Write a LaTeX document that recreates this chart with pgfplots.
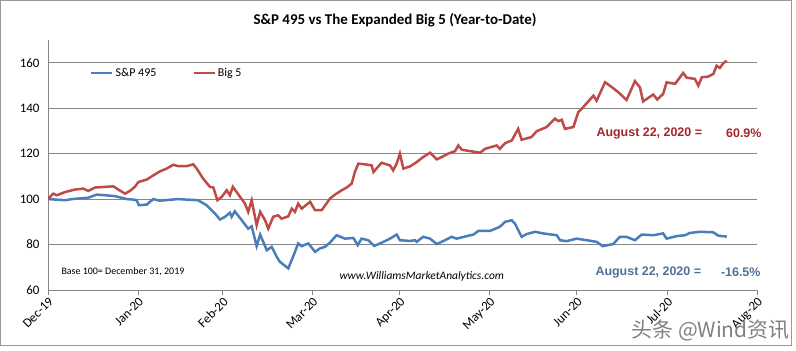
\documentclass[border=0pt]{standalone}
\usepackage{pgfplots}
\pgfplotsset{compat=1.18}
\usepackage{fontspec}
\setmainfont{Carlito}
\newfontfamily\arialfont{Liberation Sans}
\newfontfamily\cjk{Noto Sans CJK SC}
\definecolor{sblue}{RGB}{74,126,187}
\definecolor{bred}{RGB}{190,75,72}
\definecolor{tred}{RGB}{163,38,44}
\definecolor{tblue}{RGB}{80,112,152}
\definecolor{gridc}{RGB}{134,134,134}
\begin{document}
\begin{tikzpicture}[x=1bp,y=1bp]
\useasboundingbox (0,0) rectangle (796,350);
\draw[black!40, line width=1bp] (0.5,5) rectangle (791,349.5);
\begin{axis}[at={(48bp,60bp)}, anchor=south west, scale only axis,
  width=709bp, height=250bp,
  xmin=0, xmax=244, ymin=60, ymax=170,
  xtick={0,31,60,91,121,152,182,213,244},
  xticklabels={Dec-19,Jan-20,Feb-20,Mar-20,Apr-20,May-20,Jun-20,Jul-20,Aug-20},
  ytick={60,80,100,120,140,160},
  axis x line*=bottom, axis y line*=left,
  ymajorgrids, grid style={gridc, line width=0.8bp},
  axis line style={gridc, line width=0.8bp},
  tick align=outside, major tick length=5bp,
  xtick style={gridc, line width=0.8bp}, ytick style={draw=none},
  tick label style={font=\fontsize{13}{15}\selectfont},
  /pgf/number format/assume math mode=true,
  xticklabel style={rotate=45, anchor=north east, inner sep=1bp},
  legend style={at={(0.055,0.868)}, anchor=west, draw=none, fill=none,
    legend columns=2, font=\fontsize{12}{14}\selectfont,
    /tikz/every even column/.append style={column sep=34bp}},
  legend image code/.code={\draw[#1] (0bp,0bp) -- (21bp,0bp);},
]
\addplot[sblue, line width=2.5bp] coordinates {
(0,100) (6,99.5) (8.2,100) (13.8,100.6) (16.8,102) (23.1,101.3) (27.1,100) (29.2,99.8)
(30.5,99.5) (31.3,97.3) (34.0,97.6) (36.2,100) (38.5,99.3) (44.7,100) (51.6,99.5)
(54.6,97.3) (57.5,93.6) (59.2,91) (60.9,92.2) (62.6,94) (63.2,92.2) (64.3,94.6)
(68.9,87) (70.1,88) (71.8,79.3) (73.0,84.4) (75.3,77.5) (77.0,79) (78.7,74.6)
(79.8,72.4) (82.7,69.5) (85.0,76.8) (86.1,80.5) (87.3,79.3) (89.6,80.5) (91.9,76.8)
(93.6,78.3) (95.3,79) (97.0,80.8) (99.3,84.1) (102.2,82.6) (105.1,82.9) (106.6,79.7)
(107.9,82.6) (110.2,81.9) (112.3,79.4) (114.8,80.8) (117.7,82.6) (120.0,84.4)
(121.1,81.9) (124.6,81.6) (126.3,81.9) (126.9,81.2) (129.1,83.4) (131.5,82.6)
(133.8,80.2) (136.6,81.9) (138.9,83.4) (140.6,82.6) (144.1,83.7) (146.4,84.4)
(148.1,86) (152.1,86) (155.5,87.8) (157.3,90) (159.6,90.7) (160.7,89.2) (163.0,83.4)
(164.7,84.6) (167.6,85.6) (170.4,84.9) (175.1,84.1) (176.2,81.9) (178.5,81.5)
(181.9,82.6) (185.4,81.9) (188.8,81.2) (190.9,79.3) (194.5,80.2) (196.8,83.4)
(199.1,83.4) (202.0,81.9) (204.3,84.4) (208.3,84.1) (211.7,84.9) (212.9,82.6)
(216.3,83.7) (219.2,84.1) (220.9,85.1) (224.4,85.6) (228.9,85.4) (230.7,83.9)
(233.6,83.5)
};
\addlegendentry{S\&P 495}
\addplot[bred, line width=2.5bp] coordinates {
(0,100) (1.8,102.4) (3.0,101.7) (5.9,103.1) (9.3,104.2) (12.1,104.6) (13.9,103.6)
(16.2,105.1) (22.5,105.6) (24.2,104.2) (26.5,102.4) (28.2,103.6) (29.9,105.4)
(31.1,107.5) (34.0,108.6) (35.7,110) (38.5,112.2) (40.8,113.4) (43.1,115.1)
(44.8,114.5) (47.7,114.5) (50.0,115.3) (51.2,113.4) (53.4,109) (55.7,105.4)
(56.9,105.1) (58.3,99.5) (59.8,101) (61.5,103.9) (62.6,101.7) (63.6,105.4)
(66.1,101) (67.8,98) (68.9,94.4) (70.1,99.5) (71.8,88.5) (73.0,94.4) (74.7,90.7)
(75.8,87) (77.5,92.2) (79.2,92.9) (80.4,91.4) (82.7,92.4) (83.9,95.8) (85.0,94.4)
(86.1,98) (87.3,95.8) (90.2,98.8) (91.9,95.1) (94.2,95.1) (97.0,100.2) (98.8,102)
(101.1,103.9) (102.8,105.1) (104.5,106.8) (105.6,111.9) (106.8,115.6) (109.7,115.2)
(111.4,114.8) (112.0,111.9) (114.8,116) (117.7,114.8) (118.8,112.6) (120.0,115.6)
(121.1,120) (122.3,113.4) (124.6,114.4) (126.9,116.3) (129.1,118.5) (131.5,120.4)
(133.8,117.5) (135.5,118.5) (137.7,120) (140.1,121.1) (141.2,123.6) (142.4,121.7)
(148.7,120.4) (150.4,122.1) (154.4,123.6) (155.5,122.1) (157.3,124.6) (159.6,125.8)
(161.8,130.9) (163.0,126.1) (166.4,127.3) (168.2,129.9) (171.6,131.7) (174.5,135.4)
(175.6,134.3) (176.8,134.9) (177.9,130.9) (180.8,131.7) (182.5,138.3) (184.2,140.5)
(187.7,145.5) (188.8,143.3) (191.7,151.4) (194.0,149.3) (196.3,147) (199.1,143.6)
(202.0,151.9) (203.7,149.2) (204.8,143) (208.3,146) (209.7,143.8) (211.7,146.3)
(212.9,151.4) (215.8,150.7) (218.6,155.5) (219.8,153.4) (222.6,152.9) (223.8,149.9)
(225.0,153.6) (227.2,153.9) (229.0,155.1) (230.1,158.7) (231.2,157.7) (232.4,159.8)
(233.6,160.9)
};
\addlegendentry{Big 5}
\end{axis}
\node[font=\bfseries\fontsize{15}{18}\selectfont] at (395,330) {S\&P 495 vs The Expanded Big 5 (Year-to-Date)};
\node[anchor=west, text=tred, font=\arialfont\bfseries\fontsize{12.5}{14}\selectfont] at (593,217) {August 22, 2020 =};
\node[anchor=east, text=tred, font=\arialfont\bfseries\fontsize{12.5}{14}\selectfont] at (765,217) {60.9\%};
\node[anchor=west, text=tblue, font=\arialfont\bfseries\fontsize{12.5}{14}\selectfont] at (592,78) {August 22, 2020 =};
\node[anchor=east, text=tblue, font=\arialfont\bfseries\fontsize{12.5}{14}\selectfont] at (764,78) {-16.5\%};
\node[anchor=west, font=\fontsize{10}{12}\selectfont] at (58,78) {Base 100= December 31, 2019};
\node[anchor=west, font=\itshape\fontsize{11.5}{13}\selectfont] at (336,74) {www.WilliamsMarketAnalytics.com};
\node[anchor=west, text=black!50, font=\cjk\fontsize{21}{24}\selectfont] at (628,20) {头条 @Wind资讯};
\end{tikzpicture}
\end{document}
